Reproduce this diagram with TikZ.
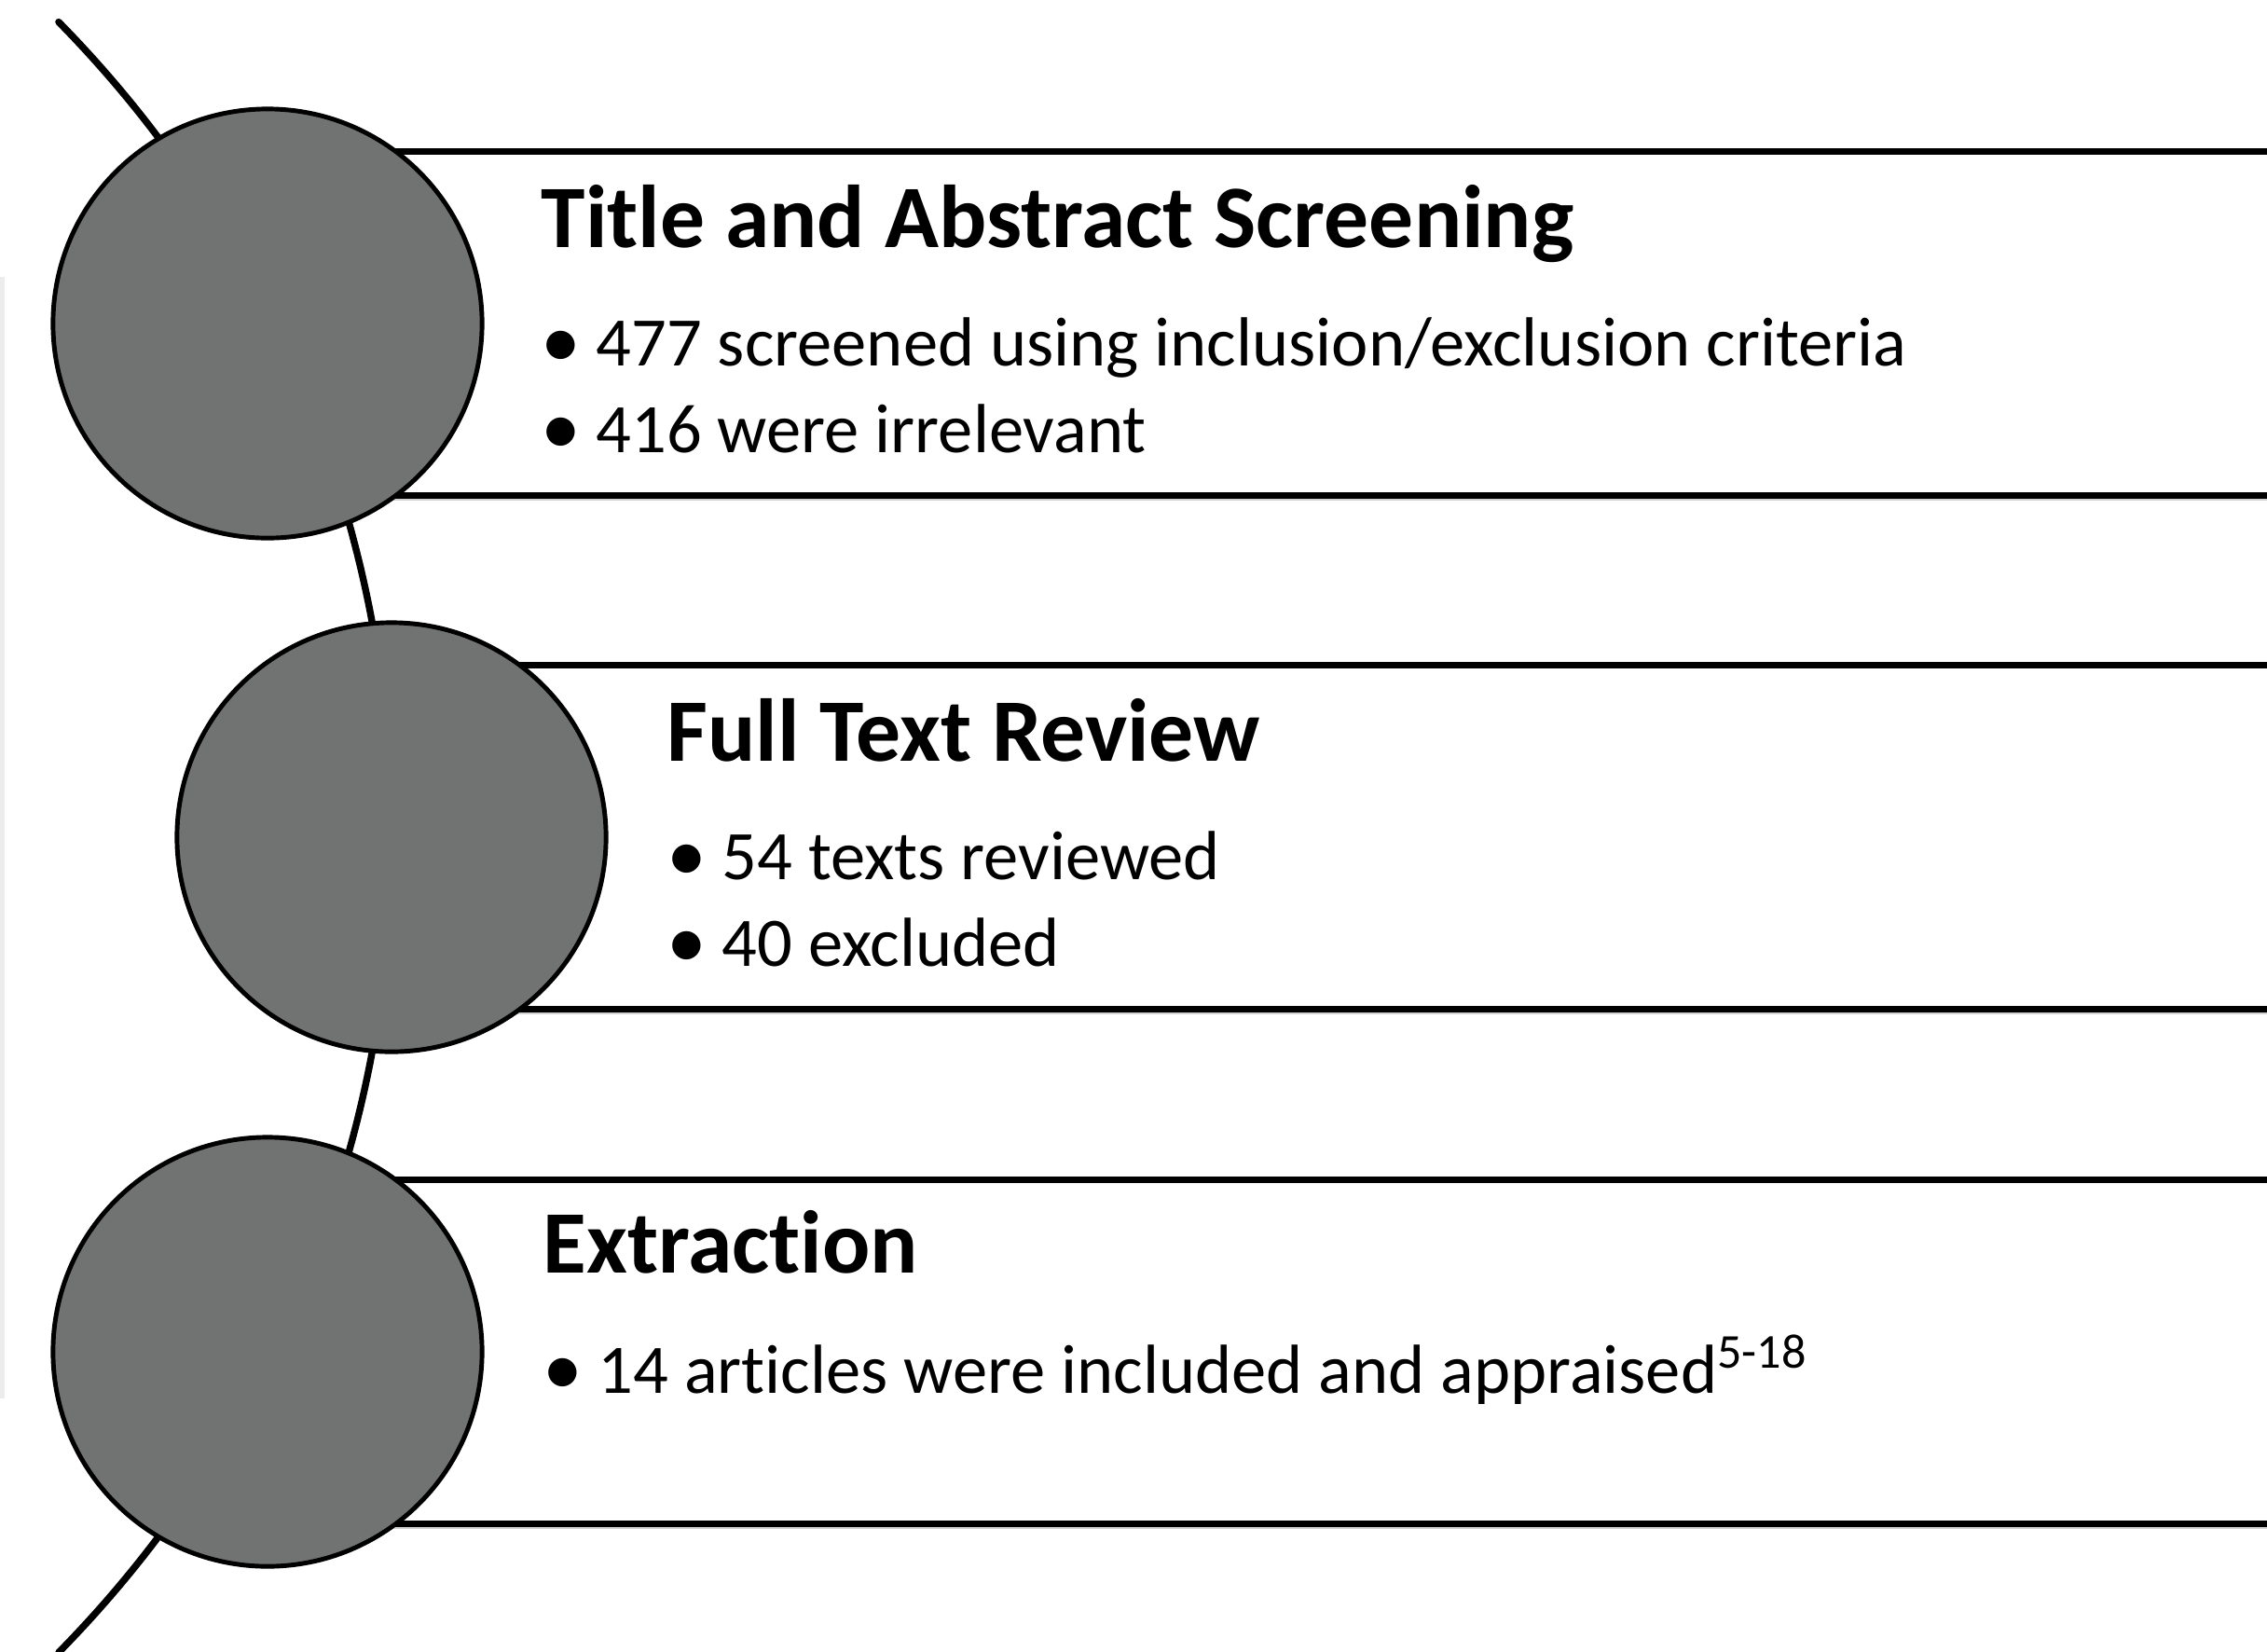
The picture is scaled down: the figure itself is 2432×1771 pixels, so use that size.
\documentclass[tikz,border=0pt]{standalone}
\usepackage{fontspec}
\setmainfont{Carlito}[Ligatures=NoCommon]
\usepackage{graphicx}
\usepackage{tikz}
\usetikzlibrary{shadows}
\definecolor{discgray}{RGB}{113,115,114}
\tikzset{
  stagebox/.style={rectangle, draw, fill=white, line width=2pt, anchor=west,
    minimum width=24cm, minimum height=3.68cm, inner sep=0pt,
    drop shadow={shadow xshift=0pt, shadow yshift=-0.06cm, fill=black!30, opacity=.6}},
  disc/.style={circle, draw, fill=discgray, line width=1.4pt, minimum size=4.6cm, inner sep=0pt},
  stagetitle/.style={anchor=base west, inner sep=0pt, font=\fontsize{27.2}{32}\selectfont\bfseries},
  bulletline/.style={anchor=base west, inner sep=0pt, font=\fontsize{21.2}{25}\selectfont,
    execute at begin node={\makebox[0.59cm][l]{\raisebox{-0.8pt}{\scalebox{1.15}{\textbullet}}}}}
}
\begin{document}
\begin{tikzpicture}[x=0.01cm, y=-0.01cm]
  % 画布范围
  \useasboundingbox (0,0) rectangle (2432,1771);
  \clip (0,0) rectangle (2432,1771);
  \draw[gray!15, line width=1.4pt] (2.5,297) -- (2.5,1500);
  % 圆弧
  \coordinate (hub) at (-827,898);
  \draw[line width=2.1pt, line cap=round] (hub) ++(44.5:12.47cm)
    arc[start angle=44.5, end angle=-44.5, radius=12.47cm];
  % 三个阶段
  \node[stagebox] (boxA) at (287,347) {};
  \node[stagebox] (boxB) at (420,898) {};
  \node[stagebox] (boxC) at (287,1450) {};
  \node[disc] (discA) at (boxA.west) {};
  \node[disc] (discB) at (boxB.west) {};
  \node[disc] (discC) at (boxC.west) {};
  % 文字
  \node[stagetitle] (titleA) at (580,265) {Title and Abstract Screening};
  \node[bulletline] (itemA1) at (580,392) {477 screened using inclusion/exclusion criteria};
  \node[bulletline] (itemA2) at (580,485) {416 were irrelevant};
  \node[stagetitle] (titleB) at (715,816) {Full Text Review};
  \node[bulletline] (itemB1) at (715,943) {54 texts reviewed};
  \node[bulletline] (itemB2) at (715,1036) {40 excluded};
  \node[stagetitle] (titleC) at (582,1365) {Extraction};
  \node[bulletline] (itemC1) at (582,1494) {14 articles were included and appraised\textsuperscript{5-18}};
\end{tikzpicture}
\end{document}
